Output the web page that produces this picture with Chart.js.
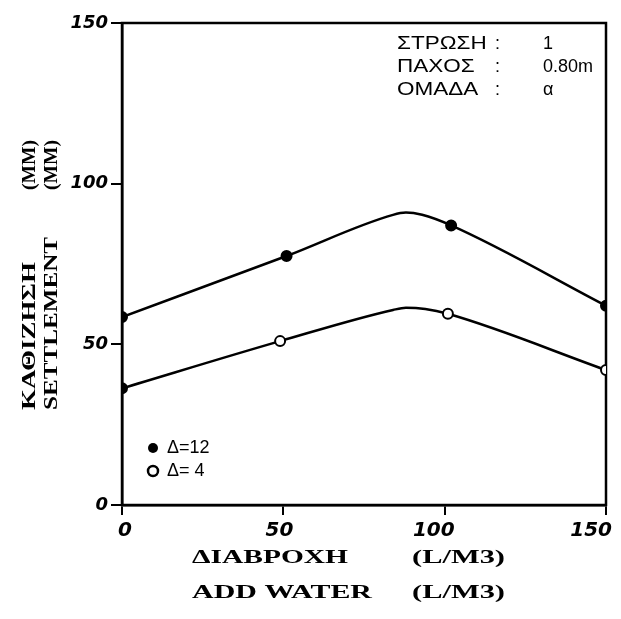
<!DOCTYPE html>
<html>
<head>
<meta charset="utf-8">
<script src="https://cdn.jsdelivr.net/npm/chart.js@4.4.0/dist/chart.umd.min.js"></script>
<style>
  html, body { margin: 0; padding: 0; background: #fff; }
  canvas { display: block; }
</style>
</head>
<body>
<canvas id="settlementChart" width="621" height="619"></canvas>
<script>
// Values
const addWater12 = [0, 51, 84, 88, 93, 102, 150];
const settlement12 = [58.5, 77.5, 90.3, 91, 90.3, 87, 62];
const marked12 = [true, true, false, false, false, true, true];

const addWater4 = [0, 49, 84, 88, 94, 101, 150];
const settlement4 = [36.3, 51, 60.7, 61.4, 61, 59.5, 42];
const marked4 = [true, true, false, false, false, true, true];
const filled4 = [true, false, false, false, false, false, false];

const xTickValues = [0, 50, 100, 150];
const yTickValues = [0, 50, 100, 150];

const seriesLabels = ['Δ=12', 'Δ= 4'];
const infoRows = [
    ['ΣΤΡΩΣΗ', ':', '1'],
    ['ΠΑΧΟΣ', ':', '0.80m'],
    ['ΟΜΑΔΑ', ':', 'α']
];
const yTitleWords = [['ΚΑΘΙΖΗΣΗ', '(ΜΜ)'], ['SETTLEMENT', '(MM)']];
const xTitleWords = [['ΔΙΑΒΡΟΧΗ', '(L/M3)'], ['ADD WATER', '(L/M3)']];

const serifFont = 'bold 19px "Liberation Serif", serif';
const infoFont = '18px "Liberation Sans"';
const xTickFont = 'italic bold 20px "DejaVu Sans"';

function toPoints(xs, ys) {
    return xs.map((x, i) => ({ x: x, y: ys[i] }));
}

// typewriter lettering is wide, so stretch each word to the width it has in the scan
function fitText(ctx, text, x, y, width) {
    const sx = width / ctx.measureText(text).width;
    ctx.save();
    ctx.translate(x, y);
    ctx.scale(sx, 1);
    ctx.fillText(text, 0, 0);
    ctx.restore();
}

function stretchedText(ctx, text, x, y, sx) {
    ctx.save();
    ctx.translate(x, y);
    ctx.scale(sx, 1);
    ctx.fillText(text, 0, 0);
    ctx.restore();
}

const tickFont = { family: '"DejaVu Sans"', size: 18, style: 'italic', weight: 'bold' };

const paperPlugin = {
    id: 'paper',
    beforeDraw(chart) {
        const ctx = chart.ctx;
        ctx.save();
        ctx.fillStyle = '#fff';
        ctx.fillRect(0, 0, chart.width, chart.height);
        ctx.restore();
    },
    beforeDatasetsDraw(chart) {
        const { ctx, chartArea } = chart;
        ctx.save();
        ctx.strokeStyle = '#000';
        ctx.lineWidth = 2.5;
        ctx.strokeRect(chartArea.left, chartArea.top,
            chartArea.right - chartArea.left, chartArea.bottom - chartArea.top);
        ctx.restore();
    },
    afterDraw(chart) {
        const { ctx, chartArea } = chart;
        const xScale = chart.scales.x;
        ctx.save();
        ctx.fillStyle = '#000';
        ctx.textBaseline = 'middle';

        // x tick labels, hand lettered a little left of each tick
        ctx.font = xTickFont;
        ctx.textAlign = 'right';
        xTickValues.forEach(v => {
            const px = xScale.getPixelForValue(v);
            ctx.fillText(String(v), px + (v === 150 ? 6 : 10), chartArea.bottom + 26);
        });

        // info block, top right
        ctx.textAlign = 'left';
        ctx.font = infoFont;
        infoRows.forEach((row, i) => {
            const y = 44 + i * 23;
            stretchedText(ctx, row[0], 397, y, 1.25);
            ctx.fillText(row[1], 495, y);
            ctx.fillText(row[2], 543, y);
        });

        // legend inside the plot
        ctx.font = '18px "Liberation Sans"';
        const lx = chartArea.left + 31;
        [448, 471].forEach((y, i) => {
            ctx.beginPath();
            ctx.arc(lx, y, 5, 0, Math.PI * 2);
            if (i === 0) {
                ctx.fill();
            } else {
                ctx.fillStyle = '#fff';
                ctx.fill();
                ctx.fillStyle = '#000';
                ctx.lineWidth = 2.5;
                ctx.stroke();
            }
            ctx.fillText(seriesLabels[i], lx + 14, y);
        });

        // axis titles
        ctx.font = serifFont;
        const xWidths = [[156, 93], [180, 93]];
        xTitleWords.forEach((words, i) => {
            const y = 558 + i * 35;
            fitText(ctx, words[0], 192, y, xWidths[i][0]);
            fitText(ctx, words[1], 412, y, xWidths[i][1]);
        });
        const yWidths = [[148, 50], [173, 50]];
        yTitleWords.forEach((words, i) => {
            ctx.save();
            ctx.translate(30 + i * 22, 410);
            ctx.rotate(-Math.PI / 2);
            fitText(ctx, words[0], 0, 0, yWidths[i][0]);
            fitText(ctx, words[1], 220, 0, yWidths[i][1]);
            ctx.restore();
        });
        ctx.restore();
    }
};

function makeDataset(label, xs, ys, marked, filled) {
    return {
        label: label,
        data: toPoints(xs, ys),
        borderColor: '#000',
        borderWidth: 2.5,
        cubicInterpolationMode: 'monotone',
        pointRadius: marked.map(m => (m ? 5 : 0)),
        pointHoverRadius: marked.map(m => (m ? 5 : 0)),
        pointBackgroundColor: filled.map(f => (f ? '#000' : '#fff')),
        pointBorderColor: '#000',
        pointBorderWidth: 2,
        fill: false
    };
}

function drawChart() {
    const ctx = document.getElementById('settlementChart').getContext('2d');
    new Chart(ctx, {
        type: 'line',
        data: {
            datasets: [
                makeDataset(seriesLabels[0], addWater12, settlement12, marked12, marked12),
                makeDataset(seriesLabels[1], addWater4, settlement4, marked4, filled4)
            ]
        },
        options: {
            responsive: false,
            animation: false,
            layout: { padding: { top: 23, right: 15, left: 0, bottom: 0 } },
            plugins: {
                legend: { display: false },
                tooltip: { enabled: false }
            },
            scales: {
                x: {
                    type: 'linear',
                    min: 0,
                    max: 150,
                    afterBuildTicks: scale => {
                        scale.ticks = xTickValues.map(v => ({ value: v }));
                    },
                    afterFit: scale => {
                        scale.height = 114;
                        scale.paddingLeft = 0;
                        scale.paddingRight = 0;
                    },
                    ticks: { display: false },
                    grid: {
                        drawOnChartArea: false,
                        drawTicks: true,
                        tickLength: 10,
                        color: '#000',
                        lineWidth: 2
                    },
                    border: { color: '#000', width: 2.5 }
                },
                y: {
                    min: 0,
                    max: 150,
                    afterBuildTicks: scale => {
                        scale.ticks = yTickValues.map(v => ({ value: v }));
                    },
                    afterFit: scale => {
                        scale.width = 122;
                        scale.paddingTop = 0;
                        scale.paddingBottom = 0;
                    },
                    ticks: {
                        font: tickFont,
                        color: '#000',
                        padding: 3,
                        autoSkip: false
                    },
                    grid: {
                        drawOnChartArea: false,
                        drawTicks: true,
                        tickLength: 11,
                        color: '#000',
                        lineWidth: 2
                    },
                    border: { color: '#000', width: 2.5 }
                }
            }
        },
        plugins: [paperPlugin]
    });
}

// make sure the system fonts are ready before the canvas paints text
Promise.all([
    document.fonts.load(serifFont, 'ΔΙΑΒΡΟΧΗ ADD'),
    document.fonts.load(infoFont, 'ΣΤΡΩΣΗ'),
    document.fonts.load(xTickFont, '150')
]).then(drawChart, drawChart);
</script>
</body>
</html>
